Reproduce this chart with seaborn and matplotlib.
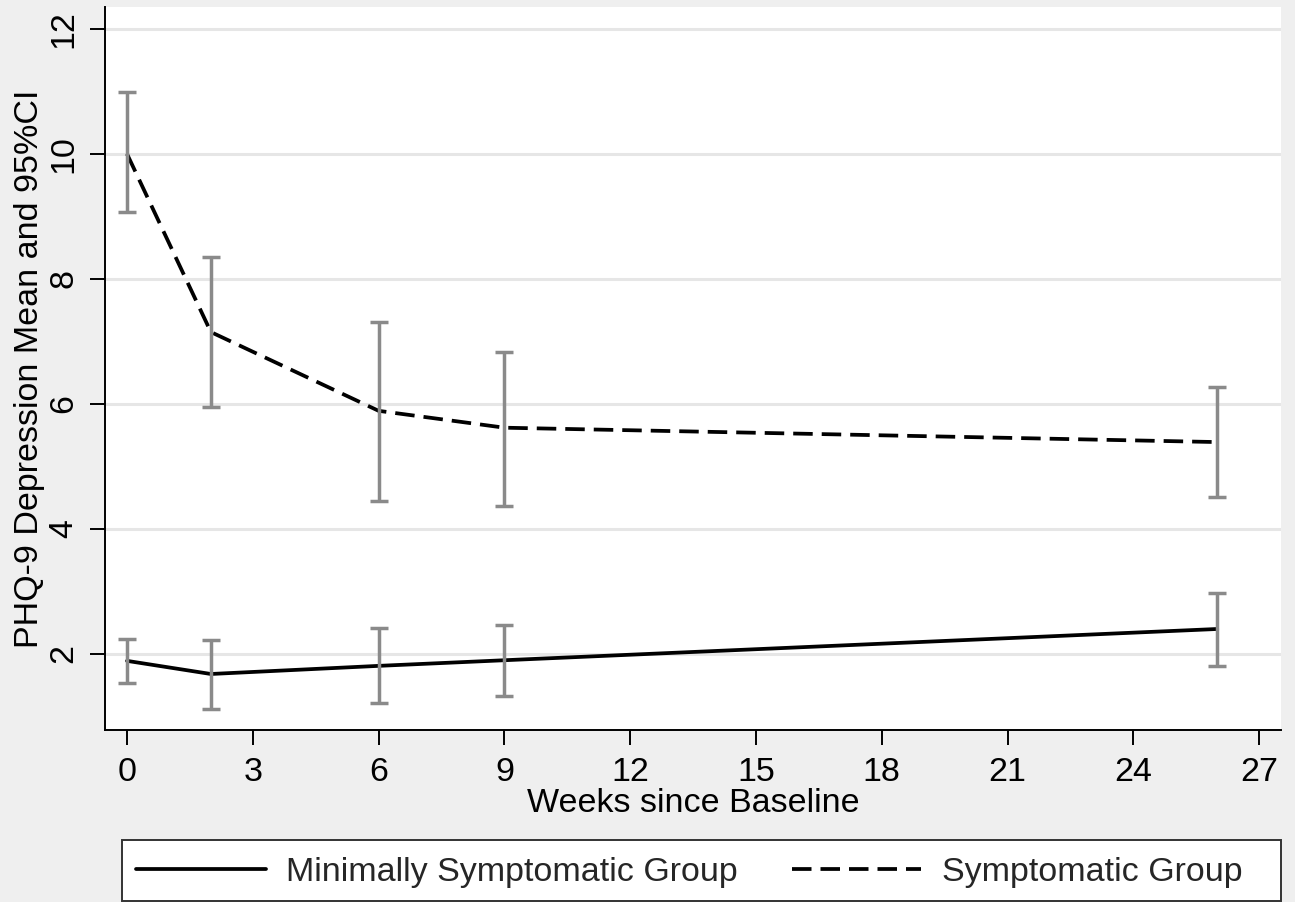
import pandas as pd
import matplotlib
matplotlib.use("Agg")
import matplotlib.pyplot as plt
import matplotlib.patches as mpatches
import seaborn as sns

# weeks since baseline and group means / 95% CI
weeks = [0, 2, 6, 9, 26]
minimal_mean = [1.89, 1.68, 1.81, 1.90, 2.40]
minimal_lo = [1.54, 1.12, 1.22, 1.32, 1.81]
minimal_hi = [2.24, 2.22, 2.42, 2.47, 2.98]
symptomatic_mean = [10.0, 7.15, 5.89, 5.62, 5.39]
symptomatic_lo = [9.07, 5.95, 4.45, 4.37, 4.51]
symptomatic_hi = [10.99, 8.35, 7.31, 6.83, 6.27]
groups = ["Minimally Symptomatic Group", "Symptomatic Group"]
x_ticks = [0, 3, 6, 9, 12, 15, 18, 21, 24, 27]
y_ticks = [2, 4, 6, 8, 10, 12]

df = pd.DataFrame({
    "week": weeks * 2,
    "mean": minimal_mean + symptomatic_mean,
    "lo": minimal_lo + symptomatic_lo,
    "hi": minimal_hi + symptomatic_hi,
    "group": [groups[0]] * len(weeks) + [groups[1]] * len(weeks),
})

sns.set_theme(style="white")
plt.rcParams['font.family'] = ['Liberation Sans', 'DejaVu Sans']

bg = "#efefef"
fs = 24.5
fig = plt.figure(figsize=(12.95, 9.02), dpi=100, facecolor=bg)
ax = fig.add_axes([105 / 1295, 1 - 730 / 902, 1176 / 1295, 723 / 902])
ax.set_facecolor("white")

lw = 2.7
dash = (5.2, 2.4)
sns.lineplot(data=df, x="week", y="mean", style="group",
             dashes={groups[0]: "", groups[1]: dash},
             color="black", linewidth=lw, ax=ax, legend=False,
             errorbar=None, zorder=3)

# 95% CI bars
for g in groups:
    sub = df[df["group"] == g]
    ax.errorbar(sub["week"], sub["mean"],
                yerr=[sub["mean"] - sub["lo"], sub["hi"] - sub["mean"]],
                fmt="none", ecolor="#8a8a8a", elinewidth=2.5,
                capsize=6.2, capthick=2.5, zorder=4)

ax.set_xlim(-0.525, 27.52)
ax.set_ylim(0.784, 12.35)
ax.set_xticks(x_ticks)
ax.set_yticks(y_ticks)
ax.grid(axis="y", color="#e6e6e6", linewidth=2.2)
ax.grid(axis="x", visible=False)
ax.set_axisbelow(True)

for side in ["top", "right"]:
    ax.spines[side].set_visible(False)
for side in ["left", "bottom"]:
    ax.spines[side].set_color("black")
    ax.spines[side].set_linewidth(1.4)

ax.tick_params(axis="both", which="major", direction="out", length=10.5,
               width=1.4, color="black", labelsize=fs, labelcolor="black",
               left=True, bottom=True)
ax.tick_params(axis="x", pad=9)
ax.tick_params(axis="y", pad=8)
for lab in ax.get_yticklabels():
    lab.set_rotation(90)
    lab.set_va("center")

ax.set_xlabel("Weeks since Baseline", fontsize=fs, color="black", labelpad=0)
ax.set_ylabel("PHQ-9 Depression Mean and 95%CI", fontsize=fs, color="black")
ax.yaxis.set_label_coords(-0.051, 0.5)

# legend box below the plot
box = mpatches.Rectangle((122 / 1295, 1 - 901 / 902), 1159 / 1295, 61 / 902,
                         transform=fig.transFigure, facecolor="white",
                         edgecolor="#333333", linewidth=1.4, zorder=1)
fig.patches.append(box)
handles = [plt.Line2D([], [], color="black", linewidth=lw),
           plt.Line2D([], [], color="black", linewidth=lw, dashes=dash)]
fig.legend(handles, groups, loc="center left",
           bbox_to_anchor=(126 / 1295, 1 - 872 / 902), frameon=False,
           ncol=2, fontsize=fs, handlelength=3.8, handletextpad=0.6,
           columnspacing=1.6, borderaxespad=0, borderpad=0.3)

fig.savefig("out.png", dpi=100, facecolor=bg)
